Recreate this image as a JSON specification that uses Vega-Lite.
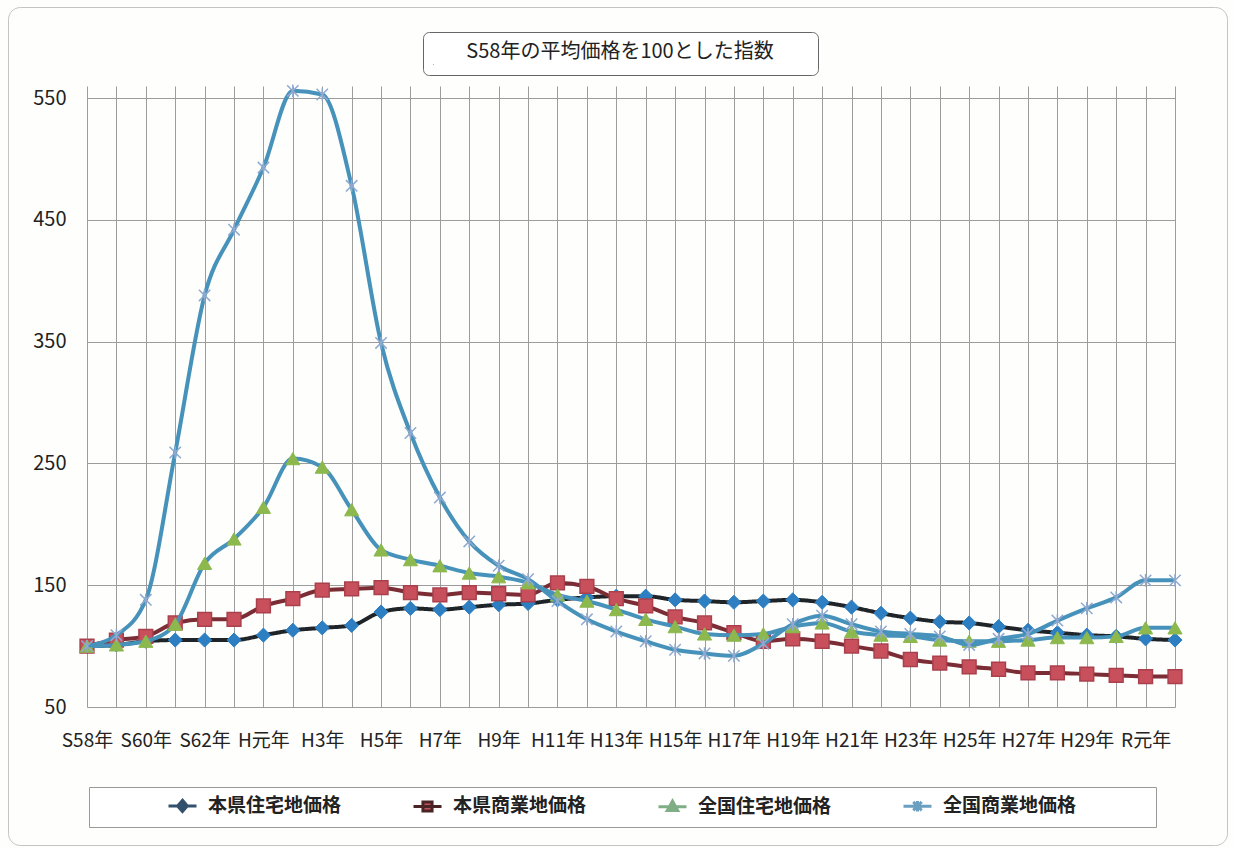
{
  "$schema": "https://vega.github.io/schema/vega-lite/v6.json",
  "width": 1088,
  "height": 621,
  "autosize": "none",
  "padding": {"left": 87, "top": 86, "right": 58, "bottom": 141},
  "background": "#fefefc",
  "config": {"font": "Noto Sans CJK JP", "view": {"stroke": null}},
  "data": {
    "values": [
      {"year": "S58年", "本県住宅地価格": 100, "本県商業地価格": 100, "全国住宅地価格": 100, "全国商業地価格": 100},
      {"year": "S59年", "本県住宅地価格": 101, "本県商業地価格": 105, "全国住宅地価格": 101, "全国商業地価格": 109},
      {"year": "S60年", "本県住宅地価格": 104, "本県商業地価格": 108, "全国住宅地価格": 104, "全国商業地価格": 138},
      {"year": "S61年", "本県住宅地価格": 105, "本県商業地価格": 119, "全国住宅地価格": 118, "全国商業地価格": 259},
      {"year": "S62年", "本県住宅地価格": 105, "本県商業地価格": 122, "全国住宅地価格": 168, "全国商業地価格": 388},
      {"year": "S63年", "本県住宅地価格": 105, "本県商業地価格": 122, "全国住宅地価格": 188, "全国商業地価格": 442},
      {"year": "H元年", "本県住宅地価格": 109, "本県商業地価格": 133, "全国住宅地価格": 214, "全国商業地価格": 493},
      {"year": "H2年", "本県住宅地価格": 113, "本県商業地価格": 139, "全国住宅地価格": 254, "全国商業地価格": 556},
      {"year": "H3年", "本県住宅地価格": 115, "本県商業地価格": 146, "全国住宅地価格": 247, "全国商業地価格": 553},
      {"year": "H4年", "本県住宅地価格": 117, "本県商業地価格": 147, "全国住宅地価格": 212, "全国商業地価格": 478},
      {"year": "H5年", "本県住宅地価格": 128, "本県商業地価格": 148, "全国住宅地価格": 179, "全国商業地価格": 349},
      {"year": "H6年", "本県住宅地価格": 131, "本県商業地価格": 144, "全国住宅地価格": 171, "全国商業地価格": 275},
      {"year": "H7年", "本県住宅地価格": 130, "本県商業地価格": 142, "全国住宅地価格": 166, "全国商業地価格": 222},
      {"year": "H8年", "本県住宅地価格": 132, "本県商業地価格": 144, "全国住宅地価格": 160, "全国商業地価格": 186},
      {"year": "H9年", "本県住宅地価格": 134, "本県商業地価格": 143, "全国住宅地価格": 157, "全国商業地価格": 166},
      {"year": "H10年", "本県住宅地価格": 135, "本県商業地価格": 142, "全国住宅地価格": 152, "全国商業地価格": 155},
      {"year": "H11年", "本県住宅地価格": 138, "本県商業地価格": 152, "全国住宅地価格": 142, "全国商業地価格": 137},
      {"year": "H12年", "本県住宅地価格": 140, "本県商業地価格": 149, "全国住宅地価格": 137, "全国商業地価格": 122},
      {"year": "H13年", "本県住宅地価格": 141, "本県商業地価格": 139, "全国住宅地価格": 130, "全国商業地価格": 112},
      {"year": "H14年", "本県住宅地価格": 141, "本県商業地価格": 133, "全国住宅地価格": 122, "全国商業地価格": 104},
      {"year": "H15年", "本県住宅地価格": 138, "本県商業地価格": 124, "全国住宅地価格": 116, "全国商業地価格": 97},
      {"year": "H16年", "本県住宅地価格": 137, "本県商業地価格": 119, "全国住宅地価格": 110, "全国商業地価格": 94},
      {"year": "H17年", "本県住宅地価格": 136, "本県商業地価格": 111, "全国住宅地価格": 109, "全国商業地価格": 92},
      {"year": "H18年", "本県住宅地価格": 137, "本県商業地価格": 104, "全国住宅地価格": 110, "全国商業地価格": 102},
      {"year": "H19年", "本県住宅地価格": 138, "本県商業地価格": 106, "全国住宅地価格": 116, "全国商業地価格": 118},
      {"year": "H20年", "本県住宅地価格": 136, "本県商業地価格": 104, "全国住宅地価格": 119, "全国商業地価格": 125},
      {"year": "H21年", "本県住宅地価格": 132, "本県商業地価格": 100, "全国住宅地価格": 112, "全国商業地価格": 118},
      {"year": "H22年", "本県住宅地価格": 127, "本県商業地価格": 96, "全国住宅地価格": 109, "全国商業地価格": 112},
      {"year": "H23年", "本県住宅地価格": 123, "本県商業地価格": 89, "全国住宅地価格": 108, "全国商業地価格": 110},
      {"year": "H24年", "本県住宅地価格": 120, "本県商業地価格": 86, "全国住宅地価格": 105, "全国商業地価格": 108},
      {"year": "H25年", "本県住宅地価格": 119, "本県商業地価格": 83, "全国住宅地価格": 104, "全国商業地価格": 101},
      {"year": "H26年", "本県住宅地価格": 116, "本県商業地価格": 81, "全国住宅地価格": 104, "全国商業地価格": 106},
      {"year": "H27年", "本県住宅地価格": 113, "本県商業地価格": 78, "全国住宅地価格": 105, "全国商業地価格": 110},
      {"year": "H28年", "本県住宅地価格": 111, "本県商業地価格": 78, "全国住宅地価格": 107, "全国商業地価格": 121},
      {"year": "H29年", "本県住宅地価格": 109, "本県商業地価格": 77, "全国住宅地価格": 107, "全国商業地価格": 131},
      {"year": "H30年", "本県住宅地価格": 108, "本県商業地価格": 76, "全国住宅地価格": 108, "全国商業地価格": 140},
      {"year": "R元年", "本県住宅地価格": 106, "本県商業地価格": 75, "全国住宅地価格": 115, "全国商業地価格": 154},
      {"year": "R2年", "本県住宅地価格": 105, "本県商業地価格": 75, "全国住宅地価格": 115, "全国商業地価格": 154}
    ]
  },
  "transform": [
    {"fold": ["本県住宅地価格", "本県商業地価格", "全国住宅地価格", "全国商業地価格"], "as": ["series", "value"]}
  ],
  "encoding": {
    "x": {
      "field": "year",
      "type": "ordinal",
      "scale": {
        "type": "point",
        "padding": 0,
        "domain": ["S58年","S59年","S60年","S61年","S62年","S63年","H元年","H2年","H3年","H4年","H5年","H6年","H7年","H8年","H9年","H10年","H11年","H12年","H13年","H14年","H15年","H16年","H17年","H18年","H19年","H20年","H21年","H22年","H23年","H24年","H25年","H26年","H27年","H28年","H29年","H30年","R元年","R2年"]
      },
      "axis": {
        "title": null,
        "grid": true,
        "gridColor": "#9c9c9c",
        "gridWidth": 1,
        "domain": false,
        "ticks": false,
        "tickSize": 0,
        "labelAngle": 0,
        "labelOverlap": false,
        "labelFontSize": 19,
        "labelColor": "#222222",
        "labelPadding": 24,
        "labelExpr": "indexof(['S58年','S60年','S62年','H元年','H3年','H5年','H7年','H9年','H11年','H13年','H15年','H17年','H19年','H21年','H23年','H25年','H27年','H29年','R元年'], datum.value) >= 0 ? datum.label : ''"
      }
    },
    "y": {
      "field": "value",
      "type": "quantitative",
      "scale": {"domain": [50, 560], "nice": false, "zero": false},
      "axis": {
        "title": null,
        "values": [50, 150, 250, 350, 450, 550],
        "grid": true,
        "gridColor": "#9c9c9c",
        "gridWidth": 1,
        "domain": false,
        "ticks": false,
        "tickSize": 0,
        "labelFontSize": 20,
        "labelColor": "#222222",
        "labelPadding": 21
      }
    }
  },
  "layer": [
    {
      "transform": [{"filter": {"field": "series", "equal": "本県住宅地価格"}}],
      "mark": {"type": "line", "interpolate": "monotone", "strokeWidth": 4, "color": "#1f2429"},
      "encoding": {
        "strokeDash": {
          "field": "series",
          "type": "nominal",
          "scale": {
            "domain": ["本県住宅地価格", "本県商業地価格", "全国住宅地価格", "全国商業地価格"],
            "range": [[1, 0], [1, 0], [1, 0], [1, 0]]
          },
          "legend": {
            "orient": "none",
            "legendX": 2,
            "legendY": 701,
            "direction": "horizontal",
            "columns": 4,
            "title": null,
            "padding": 9,
            "strokeColor": "#9a9a9a",
            "fillColor": "#ffffff",
            "labelFontSize": 19,
            "labelFontWeight": "bold",
            "labelColor": "#222222",
            "labelLimit": 400,
            "symbolOffset": 75,
            "labelOffset": 16,
            "columnPadding": 1,
            "symbolSize": 196,
            "symbolStrokeWidth": 3,
            "encoding": {
              "symbols": {
                "shape": {"value": {"expr": "['M-2,0H2M0,-0.8L0.7,0L0,0.8L-0.7,0Z','M-2,0H2M-0.65,-0.65H0.65V0.65H-0.65Z','M-2,0H2M0,-0.8L0.75,0.55H-0.75Z','M-2,0H2M-0.6,-0.6L0.6,0.6M-0.6,0.6L0.6,-0.6M0,-0.75V0.75M31.9,0'][indexof(['本県住宅地価格','本県商業地価格','全国住宅地価格','全国商業地価格'], datum.value)]"}},
                "fill": {"value": {"expr": "['#33506d','#c4505a','#7fae85','transparent'][indexof(['本県住宅地価格','本県商業地価格','全国住宅地価格','全国商業地価格'], datum.value)]"}},
                "stroke": {"value": {"expr": "['#33506d','#4a2424','#7fae85','#6b9fc0'][indexof(['本県住宅地価格','本県商業地価格','全国住宅地価格','全国商業地価格'], datum.value)]"}},
                "strokeWidth": {"value": 3}
              }
            }
          }
        }
      }
    },
    {
      "transform": [{"filter": {"field": "series", "equal": "本県住宅地価格"}}],
      "mark": {"type": "point", "shape": "diamond", "filled": true, "fill": "#2d7fc1", "stroke": "#2d7fc1", "strokeWidth": 1, "size": 200, "opacity": 1},
      "encoding": {
        "opacity": {
          "field": "value",
          "type": "quantitative",
          "scale": {"range": [1, 1]},
          "legend": {
            "orient": "none",
            "legendX": 336,
            "legendY": -54,
            "title": "S58年の平均価格を100とした指数",
            "titleLimit": 600,
            "titleFontSize": 20,
            "titleFontWeight": "normal",
            "titleColor": "#222222",
            "titleAnchor": "middle",
            "titlePadding": 2,
            "values": [100],
            "symbolSize": 1,
            "symbolOpacity": 0,
            "symbolStrokeWidth": 0,
            "labelFontSize": 1,
            "labelOpacity": 0,
            "labelOffset": 372,
            "padding": 10,
            "strokeColor": "#666666",
            "fillColor": "#ffffff",
            "cornerRadius": 6
          }
        }
      }
    },
    {
      "transform": [{"filter": {"field": "series", "equal": "本県商業地価格"}}],
      "mark": {"type": "line", "interpolate": "monotone", "strokeWidth": 4, "color": "#7b2c34"}
    },
    {
      "transform": [{"filter": {"field": "series", "equal": "本県商業地価格"}}],
      "mark": {"type": "point", "shape": "square", "filled": true, "fill": "#c8505c", "stroke": "#a9404c", "size": 190, "opacity": 1},
      "encoding": {
        "strokeWidth": {
          "field": "value",
          "type": "quantitative",
          "scale": {"range": [1.5, 1.5]},
          "legend": {
            "orient": "none",
            "legendX": -79,
            "legendY": -79,
            "title": null,
            "values": [100],
            "symbolType": "M0,0M1217,836",
            "symbolSize": 4,
            "symbolOpacity": 0,
            "labelFontSize": 1,
            "labelOpacity": 0,
            "labelOffset": 0,
            "padding": 0,
            "strokeColor": "#c4c4c4",
            "cornerRadius": 12
          }
        }
      }
    },
    {
      "transform": [{"filter": {"field": "series", "equal": "全国住宅地価格"}}],
      "mark": {"type": "line", "interpolate": "monotone", "strokeWidth": 4, "color": "#4692ba"}
    },
    {
      "transform": [{"filter": {"field": "series", "equal": "全国住宅地価格"}}],
      "mark": {"type": "point", "shape": "triangle-up", "filled": true, "fill": "#8cb84e", "stroke": "#8cb84e", "strokeWidth": 1, "size": 200, "opacity": 1}
    },
    {
      "transform": [{"filter": {"field": "series", "equal": "全国商業地価格"}}],
      "mark": {"type": "line", "interpolate": "monotone", "strokeWidth": 4, "color": "#4692ba"}
    },
    {
      "transform": [{"filter": {"field": "series", "equal": "全国商業地価格"}}],
      "mark": {"type": "point", "shape": "M-1,-1L1,1M-1,1L1,-1M0,-1.1V1.1", "filled": false, "stroke": "#8fa9cf", "strokeWidth": 1.5, "size": 130, "opacity": 1}
    }
  ]
}
